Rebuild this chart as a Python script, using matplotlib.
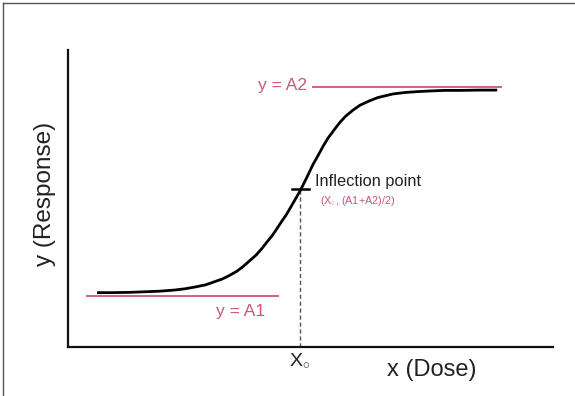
import matplotlib
matplotlib.use("Agg")
import matplotlib.pyplot as plt
from matplotlib.lines import Line2D

plt.rcParams['font.family'] = ['Liberation Sans', 'DejaVu Sans']
plt.rcParams['mathtext.fontset'] = 'custom'
plt.rcParams['mathtext.rm'] = 'Liberation Sans'
plt.rcParams['mathtext.it'] = 'Liberation Sans'

# ---- data ----
dose = [0.60, 0.87, 1.28, 1.59, 1.90, 2.21, 2.41, 2.62, 2.83, 2.99, 3.18, 3.32,
        3.49, 3.61, 3.75, 3.88, 4.00, 4.10, 4.21, 4.31, 4.41, 4.50, 4.60, 4.78,
        4.91, 5.05, 5.16, 5.26, 5.36, 5.51, 5.61, 5.73, 5.88, 6.02, 6.19, 6.39,
        6.70, 6.95, 7.22, 7.46, 7.77, 8.08, 8.50, 8.85]
response = [1.83, 1.83, 1.84, 1.86, 1.88, 1.92, 1.96, 2.02, 2.09, 2.18, 2.29, 2.40,
            2.56, 2.71, 2.91, 3.10, 3.32, 3.53, 3.75, 3.99, 4.24, 4.45, 4.73, 5.24,
            5.66, 6.14, 6.46, 6.76, 7.03, 7.36, 7.57, 7.78, 7.98, 8.14, 8.27, 8.40,
            8.52, 8.57, 8.60, 8.62, 8.64, 8.64, 8.65, 8.65]
A1 = 1.72
A2 = 8.75
A1_span = [0.37, 4.35]
A2_span = [5.03, 8.95]
x0 = 4.78
y_mid = 5.33

PINK = '#c9557e'

fig = plt.figure(figsize=(5.75, 3.96), dpi=100)
ax = fig.add_axes([68/575, 49/396, 485/575, 297/396])
ax.set_xlim(0, 10)
ax.set_ylim(0, 10)

for s in ['top', 'right']:
    ax.spines[s].set_visible(False)
for s in ['left', 'bottom']:
    ax.spines[s].set_linewidth(1.6)
    ax.spines[s].set_color('#111111')

# asymptotes
ax.plot(A1_span, [A1, A1], color=PINK, lw=1.3, solid_capstyle='butt')
ax.plot(A2_span, [A2, A2], color=PINK, lw=1.3, solid_capstyle='butt')

# dashed line at x0
ax.plot([x0, x0], [0, y_mid], color='#555555', lw=1.0, ls=(0, (3, 2)))

# curve
ax.plot(dose, response, color='black', lw=2.0, solid_capstyle='butt',
        solid_joinstyle='round')

# inflection tick
ax.plot([x0 - 0.16, x0 + 0.19], [y_mid, y_mid], color='black', lw=1.8)

ax.text(4.93, 8.79, 'y = A2', color=PINK, fontsize=12.5, ha='right', va='center')
ax.text(3.55, 1.18, 'y = A1', color=PINK, fontsize=12.5, ha='center', va='center')
ax.text(5.09, 5.56, 'Inflection point', color='#222222', fontsize=11.8, ha='left', va='center')
ax.text(5.20, 4.92, '(X$_{\\circ}$, (A1+A2)/2)', color=PINK, fontsize=7.8, ha='left', va='center')

ax.set_xticks([x0])
ax.set_xticklabels(['X$_{\\circ}$'], fontsize=14, color='#222222')
ax.tick_params(axis='x', length=0, pad=3)
ax.set_yticks([])

ax.set_xlabel('x (Dose)', fontsize=17, color='#222222')
ax.xaxis.set_label_coords((432 - 68) / 485, -0.077)
ax.xaxis.label.set_va('center')
ax.set_ylabel('y (Response)', fontsize=17.5, color='#222222')
ax.yaxis.set_label_coords((45 - 68) / 485, 0.515)
ax.yaxis.label.set_va('center')

# figure border (left and top)
fig.add_artist(Line2D([2.5/575, 2.5/575], [0, 1 - 2.5/396], color='#555555', lw=1.0))
fig.add_artist(Line2D([2.5/575, 1], [1 - 2.5/396, 1 - 2.5/396], color='#555555', lw=1.0))

fig.savefig('out.png', dpi=100)
